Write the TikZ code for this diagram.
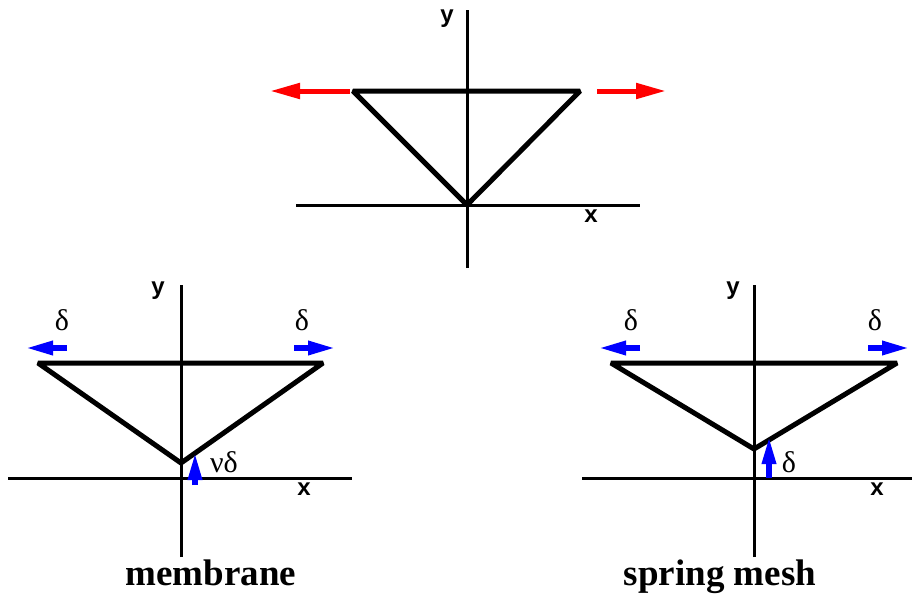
\documentclass[tikz,border=0pt]{standalone}
\usepackage{fontspec}
\setmainfont{Liberation Serif}
\setsansfont{Liberation Sans}
\usetikzlibrary{arrows.meta}
\definecolor{cred}{HTML}{FF0000}
\definecolor{cblue}{HTML}{0000FF}
\tikzset{
  axis/.style={draw=black, line width=3pt},
  frame/.style={draw=black, line width=5pt, line join=bevel},
  pull/.style={-{Triangle[length=30pt, width=15pt]}, draw=cred, line width=5pt},
  push/.style={-{Triangle[length=28pt, width=13pt]}, draw=cblue, line width=6pt},
  axlabel/.style={font=\sffamily\bfseries\fontsize{24}{24}\selectfont, inner sep=0pt},
  glabel/.style={font=\fontsize{30}{30}\selectfont, inner sep=0pt},
  caption/.style={font=\bfseries\fontsize{37}{40}\selectfont, inner sep=0pt, anchor=base},
}
\begin{document}
\begin{tikzpicture}[x=1pt, y=-1pt]
  \useasboundingbox (0,0) rectangle (915,594);

  % top: the unloaded triangle
  \coordinate (tyb) at (467,268); \coordinate (tyt) at (467,10);
  \coordinate (txl) at (296,205); \coordinate (txr) at (640,205);
  \coordinate (ttl) at (353,91); \coordinate (ttr) at (580,91); \coordinate (tap) at (467,205);
  \coordinate (tls) at (350,91); \coordinate (tle) at (270,91);
  \coordinate (trs) at (597,91); \coordinate (tre) at (666,91);
  \draw[axis] (tyb) -- (tyt);
  \draw[axis] (txl) -- (txr);
  \draw[frame] (ttl) -- (ttr) -- (tap) -- cycle;
  \draw[pull] (tls) -- (tle);
  \draw[pull] (trs) -- (tre);
  \node[axlabel] (ty) at (447,19) {y};
  \node[axlabel] (tx) at (591,216) {x};

  % bottom left: membrane
  \coordinate (myb) at (181,557); \coordinate (myt) at (181,285);
  \coordinate (mxl) at (8,478); \coordinate (mxr) at (352,478);
  \coordinate (mtl) at (38,363); \coordinate (mtr) at (323,363); \coordinate (map) at (181,463);
  \coordinate (mls) at (67,348); \coordinate (mle) at (25,348);
  \coordinate (mrs) at (294,348); \coordinate (mre) at (336,348);
  \coordinate (mus) at (195,485); \coordinate (mue) at (195,452);
  \draw[axis] (myb) -- (myt);
  \draw[axis] (mxl) -- (mxr);
  \draw[frame] (mtl) -- (mtr) -- (map) -- cycle;
  \draw[push] (mls) -- (mle);
  \draw[push] (mrs) -- (mre);
  \draw[push] (mus) -- (mue);
  \node[axlabel] (my) at (158,291) {y};
  \node[axlabel] (mx) at (304,489) {x};
  \node[glabel] (mdl) at (62,320) {δ};
  \node[glabel] (mdr) at (302,320) {δ};
  \node[glabel] (mnu) at (224,462) {νδ};
  \node[caption] (mcap) at (211,585) {membrane};

  % bottom right: spring mesh
  \coordinate (syb) at (754,557); \coordinate (syt) at (754,285);
  \coordinate (sxl) at (582,478); \coordinate (sxr) at (912,478);
  \coordinate (stl) at (611,363); \coordinate (str) at (897,363); \coordinate (sap) at (754,449);
  \coordinate (sls) at (640,348); \coordinate (sle) at (598,348);
  \coordinate (srs) at (868,348); \coordinate (sre) at (910,348);
  \coordinate (sus) at (769,478); \coordinate (sue) at (769,436);
  \draw[axis] (syb) -- (syt);
  \draw[axis] (sxl) -- (sxr);
  \draw[frame] (stl) -- (str) -- (sap) -- cycle;
  \draw[push] (sls) -- (sle);
  \draw[push] (srs) -- (sre);
  \draw[push] (sus) -- (sue);
  \node[axlabel] (sy) at (733,291) {y};
  \node[axlabel] (sx) at (877,489) {x};
  \node[glabel] (sdl) at (631,320) {δ};
  \node[glabel] (sdr) at (875,320) {δ};
  \node[glabel] (snu) at (789,462) {δ};
  \node[caption] (scap) at (720,585) {spring mesh};
\end{tikzpicture}
\end{document}
